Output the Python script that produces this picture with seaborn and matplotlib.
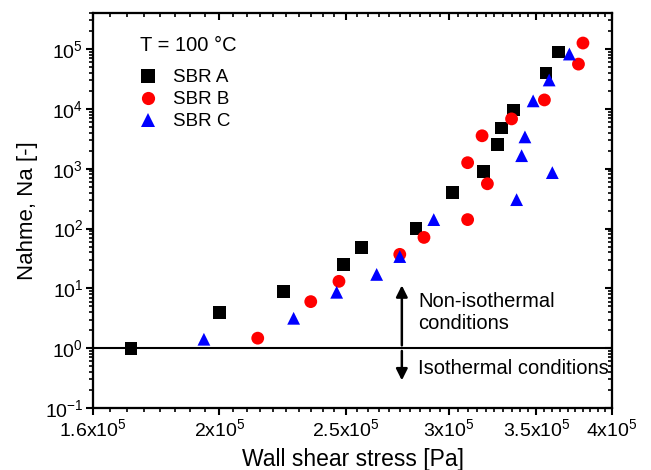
import numpy as np
import pandas as pd
import matplotlib
matplotlib.use("Agg")
import matplotlib.pyplot as plt
import seaborn as sns
from matplotlib.ticker import FixedLocator, FixedFormatter, NullFormatter, LogLocator
from matplotlib.lines import Line2D

# Wall shear stress [Pa] and Nahme number for each rubber grade
stress_a = [1.711e5, 2.00e5, 2.24e5, 2.49e5, 2.57e5, 2.83e5, 3.02e5, 3.19e5, 3.27e5, 3.29e5, 3.36e5, 3.56e5, 3.64e5]
nahme_a = [1.0, 4.0, 8.9, 25, 48, 100, 400, 890, 2500, 4800, 9600, 39800, 89000]
stress_b = [2.14e5, 2.35e5, 2.47e5, 2.75e5, 2.87e5, 3.10e5, 3.21e5, 3.10e5, 3.18e5, 3.35e5, 3.55e5, 3.77e5, 3.80e5]
nahme_b = [1.47, 6.0, 13.1, 37, 71, 141, 560, 1260, 3550, 6800, 14100, 56000, 126000]
stress_c = [1.946e5, 2.28e5, 2.46e5, 2.64e5, 2.75e5, 2.92e5, 3.38e5, 3.41e5, 3.43e5, 3.60e5, 3.48e5, 3.58e5, 3.71e5]
nahme_c = [1.41, 3.16, 8.6, 17.1, 34, 141, 304, 1650, 3400, 860, 13600, 30400, 82500]

grades = ["SBR A", "SBR B", "SBR C"]
x_ticks = [1.6e5, 2e5, 2.5e5, 3e5, 3.5e5, 4e5]
x_tick_labels = ["1.6x10^{5}", "2x10^{5}", "2.5x10^{5}", "3x10^{5}", "3.5x10^{5}", "4x10^{5}"]
y_ticks = [1e-1, 1e0, 1e1, 1e2, 1e3, 1e4, 1e5]
y_tick_labels = ["10^{-1}", "10^{0}", "10^{1}", "10^{2}", "10^{3}", "10^{4}", "10^{5}"]

df = pd.DataFrame({
    "stress": stress_a + stress_b + stress_c,
    "nahme": nahme_a + nahme_b + nahme_c,
    "grade": [grades[0]] * len(stress_a) + [grades[1]] * len(stress_b) + [grades[2]] * len(stress_c),
})

sns.set_theme(style="ticks")
plt.rcParams["font.family"] = ["Liberation Sans", "DejaVu Sans"]
plt.rcParams["mathtext.default"] = "regular"
plt.rcParams["text.color"] = "black"
plt.rcParams["axes.labelcolor"] = "black"

colors = {"SBR A": "black", "SBR B": "red", "SBR C": "blue"}
markers = {"SBR A": "s", "SBR B": "o", "SBR C": "^"}

fig = plt.figure(figsize=(6.51, 4.70), dpi=100)
ax = fig.add_axes([0.1429, 0.1319, 0.7972, 0.8404])

sns.scatterplot(data=df, x="stress", y="nahme", hue="grade", style="grade",
                palette=colors, markers=markers, s=85, linewidth=0,
                edgecolor="none", ax=ax, legend=False, zorder=3)

ax.set_xscale("log")
ax.set_yscale("log")
xlim = (1.6e5, 4e5)
ylim = (1e-1, 4e5)
ax.set_xlim(*xlim)
ax.set_ylim(*ylim)

minor_x = [v for v in np.arange(1.65e5, 4.0e5, 5e3) if all(abs(v - t) > 1 for t in x_ticks)]


def set_x_ticks(axis, labels):
    axis.set_major_locator(FixedLocator(x_ticks))
    axis.set_minor_locator(FixedLocator(minor_x))
    axis.set_minor_formatter(NullFormatter())
    if labels:
        axis.set_major_formatter(FixedFormatter(["$" + t + "$" for t in x_tick_labels]))
    else:
        axis.set_major_formatter(NullFormatter())


def set_y_ticks(axis, labels):
    axis.set_major_locator(FixedLocator(y_ticks))
    axis.set_minor_locator(LogLocator(base=10, subs=np.arange(2, 10), numticks=20))
    axis.set_minor_formatter(NullFormatter())
    if labels:
        axis.set_major_formatter(FixedFormatter(["$" + t + "$" for t in y_tick_labels]))
    else:
        axis.set_major_formatter(NullFormatter())


set_x_ticks(ax.xaxis, True)
set_y_ticks(ax.yaxis, True)
ax.tick_params(which="major", direction="out", length=5, width=1.5, labelsize=14, colors="black", pad=2)
ax.tick_params(which="minor", direction="out", length=3, width=1.2, colors="black")
for sp in ax.spines.values():
    sp.set_linewidth(1.5)
    sp.set_color("black")

# mirrored ticks on the top and right edges, pointing inwards
top = ax.twiny()
top.set_xscale("log")
top.set_xlim(*xlim)
set_x_ticks(top.xaxis, False)
top.tick_params(axis="x", which="major", direction="in", length=5, width=1.5, colors="black")
top.tick_params(axis="x", which="minor", direction="in", length=3, width=1.2, colors="black")

right = ax.twinx()
right.set_yscale("log")
right.set_ylim(*ylim)
set_y_ticks(right.yaxis, False)
right.tick_params(axis="y", which="major", direction="in", length=5, width=1.5, colors="black")
right.tick_params(axis="y", which="minor", direction="in", length=3, width=1.2, colors="black")
for a in (top, right):
    for sp in a.spines.values():
        sp.set_linewidth(1.5)
        sp.set_color("black")

ax.set_xlabel("Wall shear stress [Pa]", fontsize=16.5, labelpad=6)
ax.set_ylabel("Nahme, Na [-]", fontsize=16, labelpad=5)

# Na = 1 boundary between isothermal and non-isothermal flow
ax.axhline(1.0, color="black", linewidth=1.5, zorder=2)
arrow_x = 2.76e5
ax.annotate("", xy=(arrow_x, 12.5), xytext=(arrow_x, 1.0),
            arrowprops=dict(arrowstyle="-|>", color="black", lw=1.8, mutation_scale=17))
ax.annotate("", xy=(arrow_x, 0.26), xytext=(arrow_x, 1.0),
            arrowprops=dict(arrowstyle="-|>", color="black", lw=1.8, mutation_scale=17))
ax.text(2.84e5, 4.0, "Non-isothermal\nconditions", fontsize=14.5, ha="left", va="center",
        linespacing=1.2)
ax.text(2.84e5, 0.46, "Isothermal conditions", fontsize=14.5, ha="left", va="center")

# legend: temperature heading above the three grades
ax.text(0.0906, 0.919, "T = 100 °C", fontsize=14.5, ha="left", va="center",
        transform=ax.transAxes)
handles = [Line2D([], [], linestyle="none", marker=markers[g], color=colors[g],
                  markersize=9.5, markeredgewidth=0) for g in grades]
leg = ax.legend(handles, grades, loc="upper left", bbox_to_anchor=(0.0848, 0.858),
                frameon=False, fontsize=13.5, borderpad=0, borderaxespad=0,
                handletextpad=0.73, labelspacing=0.26, handlelength=1.2)

fig.savefig("out.png", dpi=100)
